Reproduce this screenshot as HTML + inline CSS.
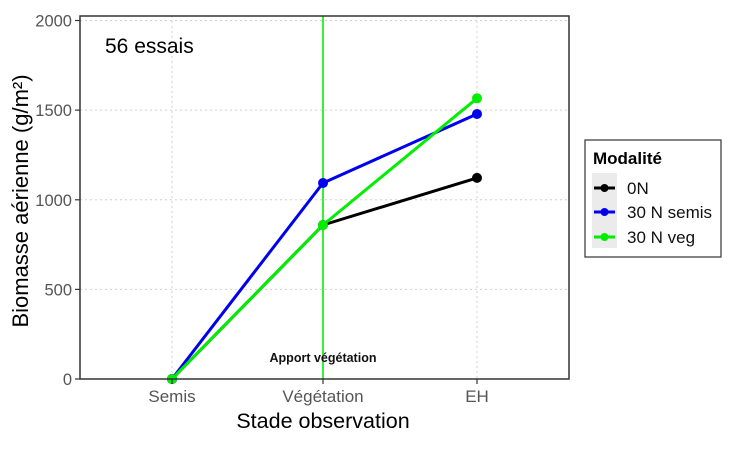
<!DOCTYPE html>
<html>
<head>
<meta charset="utf-8">
<style>
html,body{margin:0;padding:0;background:#fff;}
svg{display:block;}
text{font-family:"Liberation Sans",Arial,sans-serif;}
</style>
</head>
<body>
<svg width="747" height="455" viewBox="0 0 747 455" xmlns="http://www.w3.org/2000/svg">
  <rect x="0" y="0" width="747" height="455" fill="#fff"/>
  <!-- grid -->
  <g stroke="#d0d0d0" stroke-width="1" stroke-dasharray="2,3" fill="none">
    <line x1="80" y1="20.5" x2="569" y2="20.5"/>
    <line x1="80" y1="110.1" x2="569" y2="110.1"/>
    <line x1="80" y1="199.8" x2="569" y2="199.8"/>
    <line x1="80" y1="289.4" x2="569" y2="289.4"/>
    <line x1="172" y1="16" x2="172" y2="379"/>
    <line x1="323" y1="16" x2="323" y2="379"/>
    <line x1="477" y1="16" x2="477" y2="379"/>
  </g>
  <!-- vertical green line -->
  <line x1="323" y1="16" x2="323" y2="379" stroke="#00ee00" stroke-width="1.6"/>
  <!-- annotation -->
  <text x="323" y="362" font-size="12.5" font-weight="bold" text-anchor="middle" fill="#111">Apport végétation</text>
  <!-- series -->
  <g fill="none" stroke-width="3" stroke-linejoin="round" stroke-linecap="round">
    <polyline points="172,379 323,225 477,177.9" stroke="#000"/>
    <polyline points="172,379 323,183 477,114" stroke="#0000ee"/>
    <polyline points="172,379 323,225 477,98.3" stroke="#00ee00"/>
  </g>
  <g>
    <circle cx="172" cy="379" r="5" fill="#000"/>
    <circle cx="323" cy="225" r="5" fill="#000"/>
    <circle cx="477" cy="177.9" r="5" fill="#000"/>
    <circle cx="172" cy="379" r="5" fill="#0000ee"/>
    <circle cx="323" cy="183" r="5" fill="#0000ee"/>
    <circle cx="477" cy="114" r="5" fill="#0000ee"/>
    <circle cx="172" cy="379" r="5" fill="#00ee00"/>
    <circle cx="323" cy="225" r="5" fill="#00ee00"/>
    <circle cx="477" cy="98.3" r="5" fill="#00ee00"/>
  </g>
  <!-- panel border -->
  <rect x="80" y="16" width="489" height="363" fill="none" stroke="#333" stroke-width="1.5"/>
  <!-- ticks -->
  <g stroke="#333" stroke-width="1.2">
    <line x1="75" y1="20.5" x2="80" y2="20.5"/>
    <line x1="75" y1="110.1" x2="80" y2="110.1"/>
    <line x1="75" y1="199.8" x2="80" y2="199.8"/>
    <line x1="75" y1="289.4" x2="80" y2="289.4"/>
    <line x1="75" y1="379" x2="80" y2="379"/>
    <line x1="172" y1="379" x2="172" y2="384"/>
    <line x1="323" y1="379" x2="323" y2="384"/>
    <line x1="477" y1="379" x2="477" y2="384"/>
  </g>
  <!-- y tick labels -->
  <g font-size="16.5" fill="#555" text-anchor="end">
    <text x="72" y="26.5">2000</text>
    <text x="72" y="116">1500</text>
    <text x="72" y="205.8">1000</text>
    <text x="72" y="295.4">500</text>
    <text x="72" y="385">0</text>
  </g>
  <!-- x tick labels -->
  <g font-size="17" fill="#555" text-anchor="middle">
    <text x="172" y="402">Semis</text>
    <text x="323" y="402">Végétation</text>
    <text x="477" y="402">EH</text>
  </g>
  <!-- axis titles -->
  <text x="323" y="428" font-size="21.5" text-anchor="middle" fill="#000">Stade observation</text>
  <text transform="translate(28,201) rotate(-90)" font-size="22" text-anchor="middle" fill="#000">Biomasse aérienne (g/m²)</text>
  <!-- annotation 56 essais -->
  <text x="105" y="53" font-size="21" fill="#000">56 essais</text>
  <!-- legend -->
  <rect x="585" y="140" width="136" height="117" fill="#fff" stroke="#333" stroke-width="1.2"/>
  <text x="593" y="164" font-size="17" font-weight="bold" fill="#000">Modalité</text>
  <rect x="592" y="173" width="25" height="75" fill="#ebebeb"/>
  <g stroke-width="3">
    <line x1="594" y1="188" x2="615" y2="188" stroke="#000"/>
    <line x1="594" y1="212" x2="615" y2="212" stroke="#0000ee"/>
    <line x1="594" y1="237" x2="615" y2="237" stroke="#00ee00"/>
  </g>
  <circle cx="604.5" cy="188" r="4" fill="#000"/>
  <circle cx="604.5" cy="212" r="4" fill="#0000ee"/>
  <circle cx="604.5" cy="237" r="4" fill="#00ee00"/>
  <g font-size="17" fill="#111">
    <text x="627" y="194">0N</text>
    <text x="627" y="218">30 N semis</text>
    <text x="627" y="243">30 N veg</text>
  </g>
</svg>
</body>
</html>
